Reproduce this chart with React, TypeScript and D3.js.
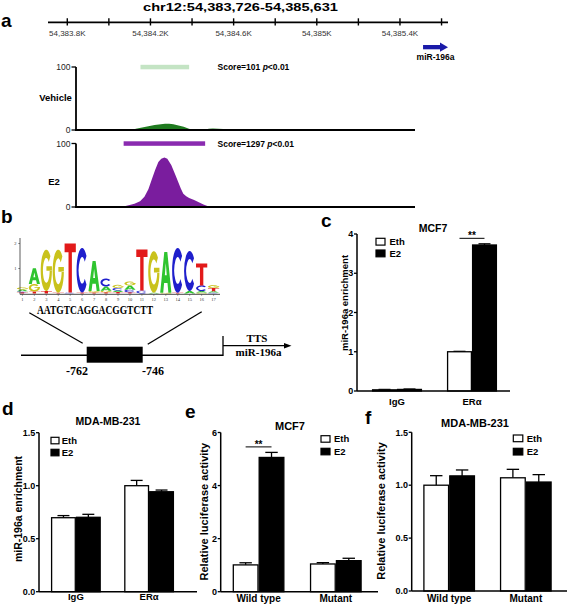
import React from 'react';
import * as d3 from 'd3';

const FONT = "'Liberation Sans', Arial, sans-serif";
const SERIF = "'Liberation Serif', 'Times New Roman', serif";

// ---------- Panel a data ----------
const regionTitle = "chr12:54,383,726-54,385,631";
const regionStart = 54383726;
const regionEnd = 54385631;
const genomeTicks = [54383800, 54384000, 54384200, 54384400, 54384600, 54384800, 54385000, 54385200, 54385400, 54385600];
const genomeTickLabels = ["54,383.8K", "", "54,384.2K", "", "54,384.6K", "", "54,385K", "", "54,385.4K", ""];
const geneName = "miR-196a";
const geneStart = 54385511;
const geneEnd = 54385631;
const trackTicks = [0, 100];

const vehiclePos = [54384110, 54384130, 54384160, 54384190, 54384220, 54384250, 54384270, 54384290, 54384310, 54384335, 54384360, 54384385, 54384410, 54384460, 54384480, 54384500, 54384525, 54384550, 54384570, 54384710, 54384730, 54384760, 54384800, 54384830];
const vehicleVal = [0, 2, 4, 6, 8, 9, 10, 10, 9, 7, 5, 2, 0, 0, 2, 2.5, 2, 1.5, 0, 0, 1, 1, 1, 0];
const vehiclePeak = [54384152, 54384386];
const vehicleScore = "Score=101 ";

const e2Pos = [54384060, 54384075, 54384100, 54384123, 54384150, 54384171, 54384190, 54384205, 54384222, 54384238, 54384252, 54384267, 54384281, 54384300, 54384318, 54384334, 54384346, 54384358, 54384372, 54384386, 54384410, 54384430, 54384455, 54384477, 54384490, 54384600, 54384615, 54384660, 54384675];
const e2Val = [0, 1, 3, 5, 9, 16, 28, 42, 58, 71, 76, 78, 76, 66, 52, 39, 29, 21, 17, 14, 11, 8, 4, 1, 0, 0, 1, 1, 0];
const e2Peak = [54384071, 54384463];
const e2Score = "Score=1297 ";
const pValue = "<0.01";

// ---------- Panel b data ----------
const motifSeq = "AATGTCAGGACGGTCTT";
const logoTicks = [1, 2];
// stacks bottom -> top, [base, bits]
const logoStacks: [string, number][][] = [
  [["T", 0.05], ["C", 0.04], ["A", 0.07], ["G", 0.08]],
  [["T", 0.08], ["G", 0.3], ["A", 0.63]],
  [["T", 0.1], ["G", 1.65]],
  [["T", 0.03], ["G", 1.72]],
  [["C", 0.04], ["T", 1.96]],
  [["T", 0.04], ["C", 1.78]],
  [["T", 0.04], ["G", 0.06], ["A", 1.2]],
  [["T", 0.05], ["G", 0.06], ["A", 0.17], ["C", 0.32]],
  [["T", 0.06], ["A", 0.06], ["C", 0.1], ["G", 0.12]],
  [["T", 0.05], ["C", 0.1], ["A", 0.17], ["G", 0.16]],
  [["C", 0.12], ["T", 1.64]],
  [["A", 0.03], ["G", 1.66]],
  [["G", 0.03], ["A", 1.63]],
  [["T", 0.03], ["C", 1.79]],
  [["A", 0.1], ["C", 1.6]],
  [["G", 0.04], ["A", 0.06], ["C", 0.22], ["T", 0.88]],
  [["C", 0.04], ["A", 0.05], ["T", 0.13], ["G", 0.11]],
];
const baseColors: Record<string, string> = { A: "#2fc42f", C: "#1f1fcc", G: "#c9c21c", T: "#e21a1a" };
const siteStartLabel = "-762";
const siteEndLabel = "-746";
const ttsLabel = "TTS";

// ---------- Bar panels data ----------
const series = ["Eth", "E2"];
const groupsChIP = ["IgG", "ERα"];
const groupsLuc = ["Wild type", "Mutant"];

const cEth = [0.03, 1.0];
const cEthErr = [0.01, 0.01];
const cE2 = [0.04, 3.72];
const cE2Err = [0.01, 0.03];
const cTicks = [0, 1, 2, 3, 4];

const dEth = [0.698, 1.0];
const dEthErr = [0.02, 0.05];
const dE2 = [0.702, 0.943];
const dE2Err = [0.028, 0.016];
const dTicks = [0, 0.5, 1.0, 1.5];

const eEth = [1.01, 1.045];
const eEthErr = [0.08, 0.05];
const eE2 = [5.06, 1.17];
const eE2Err = [0.19, 0.09];
const eTicks = [0, 2, 4, 6];

const fEth = [1.0, 1.07];
const fEthErr = [0.09, 0.08];
const fE2 = [1.088, 1.03];
const fE2Err = [0.056, 0.07];
const fTicks = [0, 0.5, 1.0, 1.5];

type BarCfg = {
  letter: string; letterX: number; letterY: number;
  title: string; titleX: number; titleY: number; titleSize: number;
  axisX: number; axisEnd: number; y0: number; yTop: number; yMax: number;
  ticks: number[]; fmt: (v: number) => string; tickSize: number;
  groups: string[]; eth: number[]; ethErr: number[]; e2: number[]; e2Err: number[];
  band: [number, number]; pi: number;
  yLabel: string; yLabelX: number; yLabelY: number; yLabelSize: number;
  legBoxX: number; legBoxW: number; legBoxH: number; legEthY: number; legE2Y: number; legTextX: number; legSize: number;
  sig: boolean; xLabelY: number; xLabelSize: number;
};

function BarPanel({ c }: { c: BarCfg }) {
  const y = d3.scaleLinear().domain([0, c.yMax]).range([c.y0, c.yTop]);
  const x = d3.scaleBand<string>().domain(c.groups).range(c.band).paddingInner(c.pi).paddingOuter(0);
  const inner = d3.scaleBand<string>().domain(series).range([0, x.bandwidth()]);
  const bw = inner.bandwidth();
  const vals = [c.eth, c.e2];
  const errs = [c.ethErr, c.e2Err];
  const cap = bw * 0.24;
  return (
    <g>
      <text x={c.letterX} y={c.letterY} fontSize={19} fontWeight="bold">{c.letter}</text>
      <text x={c.titleX} y={c.titleY} fontSize={c.titleSize} fontWeight="bold" textAnchor="middle">{c.title}</text>
      {c.groups.map((g, gi) =>
        series.map((s, si) => {
          const v = vals[si][gi];
          const e = errs[si][gi];
          const bx = (x(g) as number) + (inner(s) as number);
          const cx = bx + bw / 2;
          return (
            <g key={g + s}>
              <line x1={cx} x2={cx} y1={y(v)} y2={y(v + e)} stroke="#000" strokeWidth={1.3} />
              <line x1={cx - cap} x2={cx + cap} y1={y(v + e)} y2={y(v + e)} stroke="#000" strokeWidth={1.3} />
              <rect x={bx + 0.6} y={y(v)} width={bw - 1.2} height={c.y0 - y(v)} fill={si === 0 ? "#fff" : "#000"} stroke="#000" strokeWidth={1.3} />
            </g>
          );
        })
      )}
      {c.sig && (() => {
        const gi = c.e2.indexOf(d3.max(c.e2) as number);
        const g = c.groups[gi];
        const x1 = (x(g) as number) + (inner("Eth") as number) + bw / 2;
        const x2 = (x(g) as number) + (inner("E2") as number) + bw / 2;
        const ly = y(c.e2[gi] + c.e2Err[gi]) - 5.5;
        return (
          <g>
            <line x1={x1} x2={x2} y1={ly} y2={ly} stroke="#000" strokeWidth={1} />
            <text x={(x1 + x2) / 2} y={ly + 1} fontSize={10} fontWeight="bold" textAnchor="middle">**</text>
          </g>
        );
      })()}
      <line x1={c.axisX} x2={c.axisX} y1={c.yTop} y2={c.y0} stroke="#000" strokeWidth={1.5} />
      <line x1={c.axisX} x2={c.axisEnd} y1={c.y0} y2={c.y0} stroke="#000" strokeWidth={1.5} />
      {c.ticks.map((t) => (
        <g key={t}>
          <line x1={c.axisX - 3} x2={c.axisX} y1={y(t)} y2={y(t)} stroke="#000" strokeWidth={1.3} />
          <text x={c.axisX - 3.8} y={y(t) + c.tickSize * 0.36} fontSize={c.tickSize} fontWeight="bold" textAnchor="end">{c.fmt(t)}</text>
        </g>
      ))}
      {c.groups.map((g) => (
        <text key={g} x={(x(g) as number) + x.bandwidth() / 2} y={c.xLabelY} fontSize={c.xLabelSize} fontWeight="bold" textAnchor="middle">{g}</text>
      ))}
      <text transform={`translate(${c.yLabelX},${c.yLabelY}) rotate(-90)`} fontSize={c.yLabelSize} fontWeight="bold" textAnchor="middle">{c.yLabel}</text>
      {series.map((s, si) => {
        const ty = si === 0 ? c.legEthY : c.legE2Y;
        return (
          <g key={s}>
            <rect x={c.legBoxX} y={ty} width={c.legBoxW} height={c.legBoxH} fill={si === 0 ? "#fff" : "#000"} stroke="#000" strokeWidth={1.2} />
            <text x={c.legTextX} y={ty + c.legBoxH} fontSize={c.legSize} fontWeight="bold">{s}</text>
          </g>
        );
      })}
    </g>
  );
}

const f1 = (v: number) => d3.format(".1f")(v);
const f0 = (v: number) => String(v);

const panelC: BarCfg = {
  letter: "c", letterX: 321, letterY: 227, title: "MCF7", titleX: 433, titleY: 232, titleSize: 10.5,
  axisX: 357, axisEnd: 510, y0: 391, yTop: 234, yMax: 4, ticks: cTicks, fmt: f0, tickSize: 9,
  groups: groupsChIP, eth: cEth, ethErr: cEthErr, e2: cE2, e2Err: cE2Err, band: [372, 497], pi: 0.333,
  yLabel: "miR-196a enrichment", yLabelX: 347.5, yLabelY: 303, yLabelSize: 9.5,
  legBoxX: 376, legBoxW: 9, legBoxH: 6.8, legEthY: 238.3, legE2Y: 250, legTextX: 389.5, legSize: 9.5,
  sig: true, xLabelY: 405, xLabelSize: 9.5,
};
const panelD: BarCfg = {
  letter: "d", letterX: 2, letterY: 415, title: "MDA-MB-231", titleX: 108, titleY: 425, titleSize: 10.5,
  axisX: 39, axisEnd: 197, y0: 591.7, yTop: 432.7, yMax: 1.5, ticks: dTicks, fmt: f1, tickSize: 9,
  groups: groupsChIP, eth: dEth, ethErr: dEthErr, e2: dE2, e2Err: dE2Err, band: [51, 174], pi: 0.32,
  yLabel: "miR-196a enrichment", yLabelX: 21.5, yLabelY: 509, yLabelSize: 10.5,
  legBoxX: 51, legBoxW: 8, legBoxH: 6.5, legEthY: 437.3, legE2Y: 449.3, legTextX: 61.7, legSize: 9.5,
  sig: false, xLabelY: 600, xLabelSize: 9.5,
};
const panelE: BarCfg = {
  letter: "e", letterX: 185, letterY: 418, title: "MCF7", titleX: 290, titleY: 430, titleSize: 11,
  axisX: 220.7, axisEnd: 378, y0: 591.7, yTop: 432.5, yMax: 6, ticks: eTicks, fmt: f0, tickSize: 9,
  groups: groupsLuc, eth: eEth, ethErr: eEthErr, e2: eE2, e2Err: eE2Err, band: [232.7, 361.7], pi: 0.33,
  yLabel: "Relative luciferase activity", yLabelX: 208, yLabelY: 511.7, yLabelSize: 11,
  legBoxX: 321, legBoxW: 9, legBoxH: 6.5, legEthY: 435.7, legE2Y: 448.3, legTextX: 334, legSize: 9.5,
  sig: true, xLabelY: 602, xLabelSize: 10,
};
const panelF: BarCfg = {
  letter: "f", letterX: 365, letterY: 424, title: "MDA-MB-231", titleX: 475, titleY: 427, titleSize: 11,
  axisX: 411.7, axisEnd: 567, y0: 591, yTop: 432.3, yMax: 1.5, ticks: fTicks, fmt: f1, tickSize: 9,
  groups: groupsLuc, eth: fEth, ethErr: fEthErr, e2: fE2, e2Err: fE2Err, band: [423.3, 551.7], pi: 0.325,
  yLabel: "Relative luciferase activity", yLabelX: 385, yLabelY: 511, yLabelSize: 11,
  legBoxX: 513.3, legBoxW: 9.5, legBoxH: 6.7, legEthY: 435, legE2Y: 448.3, legTextX: 526.7, legSize: 9.5,
  sig: false, xLabelY: 602, xLabelSize: 10,
};

function PanelA() {
  const gx = d3.scaleLinear().domain([regionStart, regionEnd]).range([51.9, 448]);
  const tracks = [
    { name: "Vehicle", pos: vehiclePos, val: vehicleVal, peak: vehiclePeak, score: vehicleScore, top: 67, base: 130, fill: "#1f7a1f", bar: "#c4e4c4", nameX: 55.5, nameY: 100.5, scoreY: 69.5 },
    { name: "E2", pos: e2Pos, val: e2Val, peak: e2Peak, score: e2Score, top: 143.5, base: 207, fill: "#7a1d9e", bar: "#8a2bb0", nameX: 54, nameY: 185, scoreY: 146.8 },
  ];
  const gy = 22.3;
  return (
    <g>
      <text x={1} y={26.7} fontSize={19} fontWeight="bold">a</text>
      <text x={240.5} y={10.5} fontSize={11.5} fontWeight="bold" textAnchor="middle" textLength={195} lengthAdjust="spacingAndGlyphs">{regionTitle}</text>
      <line x1={48} x2={448} y1={gy} y2={gy} stroke="#000" strokeWidth={1.8} />
      {genomeTicks.map((t, i) => (
        <g key={t}>
          <line x1={gx(t)} x2={gx(t)} y1={gy - 4} y2={gy + 3.2} stroke="#000" strokeWidth={1.4} />
          {genomeTickLabels[i] && (
            <text x={gx(t)} y={36} fontSize={8} fill="#333" textAnchor="middle">{genomeTickLabels[i]}</text>
          )}
        </g>
      ))}
      {(() => {
        const x1 = gx(geneStart), x2 = gx(geneEnd);
        return (
          <g>
            <rect x={x1} y={45} width={x2 - 8 - x1} height={4.3} fill="#1a1aa8" />
            <polygon points={`${x2 - 8},42.6 ${x2},47.15 ${x2 - 8},51.7`} fill="#1a1aa8" />
            <text x={(x1 + x2) / 2} y={60} fontSize={8.5} fontWeight="bold" textAnchor="middle">{geneName}</text>
          </g>
        );
      })()}
      {tracks.map((tr) => {
        const ys = d3.scaleLinear().domain([0, 100]).range([tr.base, tr.top]);
        const data = d3.zip(tr.pos, tr.val) as [number, number][];
        const area = d3.area<[number, number]>().x((d) => gx(d[0])).y0(tr.base).y1((d) => ys(d[1]));
        return (
          <g key={tr.name}>
            <path d={area(data) as string} fill={tr.fill} />
            <rect x={gx(tr.peak[0])} y={tr.top - 2.2} width={gx(tr.peak[1]) - gx(tr.peak[0])} height={4.5} fill={tr.bar} />
            <text x={217.5} y={tr.scoreY} fontSize={8.5} fontWeight="bold">
              {tr.score}<tspan fontStyle="italic">p</tspan>{pValue}
            </text>
            <line x1={76} x2={76} y1={tr.top} y2={tr.base} stroke="#000" strokeWidth={1.8} />
            <line x1={75} x2={415} y1={tr.base} y2={tr.base} stroke="#000" strokeWidth={2} />
            {trackTicks.map((t) => (
              <g key={t}>
                <line x1={71.5} x2={76} y1={ys(t)} y2={ys(t)} stroke="#000" strokeWidth={1.3} />
                <text x={70.5} y={ys(t) + 3} fontSize={8.5} textAnchor="end" fill="#222">{t}</text>
              </g>
            ))}
            <text x={tr.nameX} y={tr.nameY} fontSize={9.5} fontWeight="bold" textAnchor="middle">{tr.name}</text>
          </g>
        );
      })}
    </g>
  );
}

// block-letter glyphs in a [-1,1] box (y down)
const arcC = d3.arc()({ innerRadius: 0.6, outerRadius: 1, startAngle: Math.PI * 0.72, endAngle: Math.PI * 2.28 } as any) as string;
const arcG = (d3.arc()({ innerRadius: 0.6, outerRadius: 1, startAngle: Math.PI * 0.5, endAngle: Math.PI * 2.26 } as any) as string)
  + " M0.02,-0.2 H1 V0.02 H0.02 Z";
const glyphPaths: Record<string, string> = {
  T: "M-1,-1 H1 V-0.64 H0.3 V1 H-0.3 V-0.64 H-1 Z",
  A: "M-1,1 L-0.27,-1 L0.27,-1 L1,1 L0.46,1 L0.3,0.52 L-0.3,0.52 L-0.46,1 Z M-0.17,0.14 L0.17,0.14 L0,-0.46 Z",
  C: arcC,
  G: arcG,
};

function PanelB() {
  const positions = d3.range(1, motifSeq.length + 1);
  const lx = d3.scaleBand<number>().domain(positions).range([16.8, 219.2]).paddingInner(0.06);
  const ly = d3.scaleLinear().domain([0, 2]).range([293.5, 243.5]);
  const w = lx.bandwidth();
  return (
    <g>
      <text x={1} y={223} fontSize={19} fontWeight="bold">b</text>
      {logoStacks.map((stack, i) => {
        let cum = 0;
        const x0 = lx(positions[i]) as number;
        return (
          <g key={i}>
            {stack.map(([ch, b], j) => {
              const yb = ly(cum);
              cum += b;
              const h = yb - ly(cum);
              return (
                <path key={j} d={glyphPaths[ch]} fillRule="evenodd" fill={baseColors[ch]}
                  transform={`translate(${x0 + w / 2},${yb - h / 2}) scale(${w / 2},${h / 2})`} />
              );
            })}
          </g>
        );
      })}
      <line x1={20} x2={20} y1={238} y2={294.3} stroke="#333" strokeWidth={0.8} />
      <line x1={20} x2={220} y1={294.3} y2={294.3} stroke="#333" strokeWidth={0.9} />
      {logoTicks.map((t) => (
        <g key={t}>
          <line x1={18.3} x2={20} y1={ly(t)} y2={ly(t)} stroke="#333" strokeWidth={0.6} />
          <text x={16.5} y={ly(t) + 1.5} fontSize={4.5} textAnchor="end" fontFamily={SERIF} fill="#333">{t}</text>
        </g>
      ))}
      {positions.map((p) => (
        <g key={p}>
          <line x1={(lx(p) as number) + w / 2} x2={(lx(p) as number) + w / 2} y1={294.3} y2={295.8} stroke="#333" strokeWidth={0.5} />
          <text x={(lx(p) as number) + w / 2} y={300.5} fontSize={4.5} textAnchor="middle" fontFamily={SERIF} fill="#333">{p}</text>
        </g>
      ))}
      <text x={95} y={314} fontSize={12} fontWeight="bold" fontFamily={SERIF} textAnchor="middle" textLength={116} lengthAdjust="spacingAndGlyphs">{motifSeq}</text>
      <line x1={29.3} y1={312.7} x2={82.7} y2={343.3} stroke="#000" strokeWidth={1.3} />
      <line x1={201.7} y1={311.7} x2={147.7} y2={344.3} stroke="#000" strokeWidth={1.3} />
      <line x1={21} x2={223} y1={355.3} y2={355.3} stroke="#000" strokeWidth={1.4} />
      <rect x={86.7} y={346.7} width={56} height={16} fill="#000" />
      <line x1={223} x2={223} y1={336} y2={356} stroke="#000" strokeWidth={1.3} />
      <line x1={223} x2={285} y1={345.7} y2={345.7} stroke="#000" strokeWidth={1.3} />
      <polygon points="284,343 291.5,345.7 284,348.4" fill="#000" />
      <text x={257} y={342} fontSize={11} fontWeight="bold" fontFamily={SERIF} textAnchor="middle">{ttsLabel}</text>
      <text x={258.5} y={355.5} fontSize={11} fontWeight="bold" fontFamily={SERIF} textAnchor="middle">{geneName}</text>
      <text x={77} y={375} fontSize={12} fontWeight="bold" fontFamily={SERIF} textAnchor="middle">{siteStartLabel}</text>
      <text x={153} y={375} fontSize={12} fontWeight="bold" fontFamily={SERIF} textAnchor="middle">{siteEndLabel}</text>
    </g>
  );
}

export default function App() {
  return (
    <svg width={567} height={608} viewBox="0 0 567 608" fontFamily={FONT}
      style={{ position: 'absolute', left: 0, top: 0, background: '#fff', display: 'block' }}>
      <rect x={0} y={0} width={567} height={608} fill="#fff" />
      <PanelA />
      <PanelB />
      <BarPanel c={panelC} />
      <BarPanel c={panelD} />
      <BarPanel c={panelE} />
      <BarPanel c={panelF} />
    </svg>
  );
}
